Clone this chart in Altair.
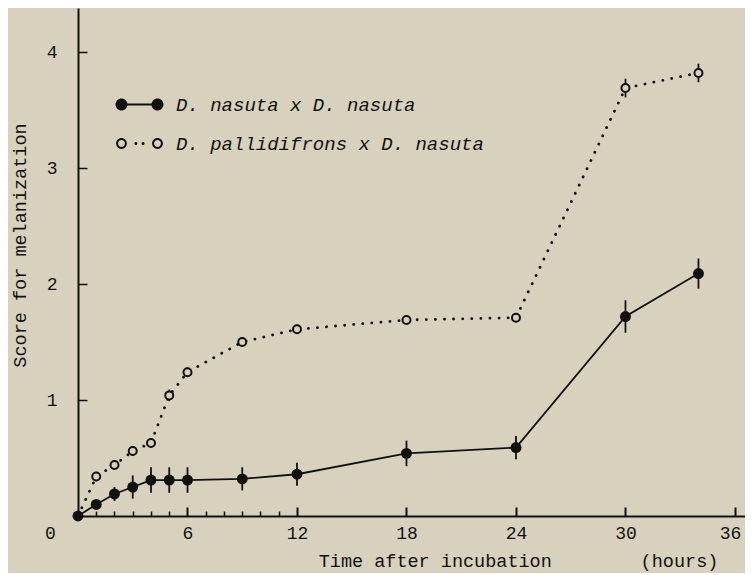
import altair as alt
import pandas as pd

# ---- data ----
hours = [0, 1, 2, 3, 4, 5, 6, 9, 12, 18, 24, 30, 34]
nasuta = [0.0, 0.10, 0.19, 0.25, 0.31, 0.31, 0.31, 0.32, 0.36, 0.54, 0.59, 1.72, 2.09]
nasuta_err = [0.0, 0.03, 0.06, 0.10, 0.11, 0.11, 0.11, 0.10, 0.10, 0.11, 0.10, 0.14, 0.13]
pallid = [0.0, 0.34, 0.44, 0.56, 0.63, 1.04, 1.24, 1.50, 1.61, 1.69, 1.71, 3.69, 3.82]
pallid_err = [0.0, 0.04, 0.04, 0.04, 0.04, 0.05, 0.04, 0.04, 0.04, 0.03, 0.04, 0.08, 0.08]
series = ["D. nasuta x D. nasuta", "D. pallidifrons x D. nasuta"]
x_label_values = [0, 6, 12, 18, 24, 30, 36]
x_tick_values = [1, 2, 3, 4, 5, 6, 7, 8, 9, 10, 11, 12, 18, 24, 30, 36]
y_values = [1, 2, 3, 4]
y_title = "Score for melanization"
x_title = "Time after incubation" + "\u00a0" * 8 + "(hours)"

rows = []
for name, vals, errs in [(series[0], nasuta, nasuta_err), (series[1], pallid, pallid_err)]:
    for h, v, e in zip(hours, vals, errs):
        rows.append({"series": name, "hour": h, "score": v, "lo": v - e, "hi": v + e})
df = pd.DataFrame(rows)

# ---- style ----
BG = "#d8d1be"
INK = "#111111"
FONT = "Liberation Mono"
W, H = 667, 508
XMAX, YMAX = 36.55, 4.38

xs = alt.Scale(domain=[0, XMAX], nice=False, zero=False)
ys = alt.Scale(domain=[0, YMAX], nice=False, zero=False)

# legend symbols as custom paths (unit = sqrt(size)/2 px)
path_filled = ("M-4,0A1,1,0,1,1,-2,0A1,1,0,1,1,-4,0Z "
               "M2,0A1,1,0,1,1,4,0A1,1,0,1,1,2,0Z "
               "M-2.2,-0.15L2.2,-0.15L2.2,0.15L-2.2,0.15Z")
path_open = ("M-3.9,0A0.9,0.9,0,1,1,-2.1,0A0.9,0.9,0,1,1,-3.9,0Z "
             "M-3.57,0A0.57,0.57,0,1,0,-2.43,0A0.57,0.57,0,1,0,-3.57,0Z "
             "M2.1,0A0.9,0.9,0,1,1,3.9,0A0.9,0.9,0,1,1,2.1,0Z "
             "M2.43,0A0.57,0.57,0,1,0,3.57,0A0.57,0.57,0,1,0,2.43,0Z "
             "M-0.85,0A0.25,0.25,0,1,1,-0.35,0A0.25,0.25,0,1,1,-0.85,0Z "
             "M0.35,0A0.25,0.25,0,1,1,0.85,0A0.25,0.25,0,1,1,0.35,0Z")

axis_bottom = alt.Axis(
    orient="bottom", values=x_label_values, ticks=False, tickSize=0, grid=False,
    domain=True, domainColor=INK, domainWidth=2,
    labelFont=FONT, labelFontSize=18, labelColor=INK, labelPadding=8,
    labelFlush=False, labelOverlap=False,
    labelOffset={
        "condition": [
            {"test": "datum.value === 0", "value": -28},
            {"test": "datum.value === 36", "value": -5},
        ],
        "value": 0,
    },
    title=x_title, titleFont=FONT, titleFontSize=18.5, titleFontWeight="normal",
    titleColor=INK, titleX=440, titleY=50, titleAlign="center", titleBaseline="alphabetic",
)
axis_top_ticks = alt.Axis(
    orient="top", offset=-H, values=x_tick_values, labels=False, domain=False, grid=False,
    title=None, ticks=True, tickColor=INK,
    tickSize={"condition": {"test": "datum.value % 6 === 0", "value": 9}, "value": 5},
    tickWidth={"condition": {"test": "datum.value % 6 === 0", "value": 2}, "value": 1.5},
)
axis_left = alt.Axis(
    orient="left", values=y_values, ticks=False, tickSize=0, grid=False,
    domain=True, domainColor=INK, domainWidth=2,
    labelFont=FONT, labelFontSize=18, labelColor=INK, labelPadding=21,
    title=y_title, titleFont=FONT, titleFontSize=18.5, titleFontWeight="normal",
    titleColor=INK, titleX=-59, titleY=237, titleAngle=-90,
    titleAlign="center", titleBaseline="middle",
)
axis_right_ticks = alt.Axis(
    orient="right", offset=-W, values=y_values, labels=False, domain=False, grid=False,
    title=None, ticks=True, tickColor=INK, tickSize=9, tickWidth=1.5,
)

base = alt.Chart(df)
is_a = alt.datum.series == series[0]
is_b = alt.datum.series == series[1]

err_a = base.transform_filter(is_a).mark_rule(color=INK, strokeWidth=1.8).encode(
    x=alt.X("hour:Q", scale=xs, axis=axis_bottom),
    y=alt.Y("lo:Q", scale=ys, axis=axis_left),
    y2="hi:Q",
)
err_b = base.transform_filter(is_b).mark_rule(color=INK, strokeWidth=1.8).encode(
    x=alt.X("hour:Q", scale=xs, axis=axis_top_ticks),
    y=alt.Y("lo:Q", scale=ys, axis=axis_right_ticks),
    y2="hi:Q",
)
line_a = base.transform_filter(is_a).mark_line(color=INK, strokeWidth=1.8).encode(
    x=alt.X("hour:Q", scale=xs, axis=None),
    y=alt.Y("score:Q", scale=ys, axis=None),
)
line_b = base.transform_filter(is_b).mark_line(
    color=INK, strokeWidth=2.8, strokeDash=[0.1, 9], strokeCap="round"
).encode(
    x=alt.X("hour:Q", scale=xs, axis=None),
    y=alt.Y("score:Q", scale=ys, axis=None),
)
pts_b = base.transform_filter(is_b).transform_filter(alt.datum.hour > 0).mark_point(
    shape="circle", size=64, filled=False, fill=BG, stroke=INK, strokeWidth=2, opacity=1
).encode(
    x=alt.X("hour:Q", scale=xs, axis=None),
    y=alt.Y("score:Q", scale=ys, axis=None),
)
pts_a = base.transform_filter(is_a).mark_point(
    shape="circle", size=120, filled=True, color=INK, opacity=1
).encode(
    x=alt.X("hour:Q", scale=xs, axis=None),
    y=alt.Y("score:Q", scale=ys, axis=None),
)
legend_layer = base.mark_point(filled=True, color=INK, opacity=0).encode(
    x=alt.X("hour:Q", scale=xs, axis=None),
    y=alt.Y("score:Q", scale=ys, axis=None),
    shape=alt.Shape(
        "series:N",
        scale=alt.Scale(domain=series, range=[path_filled, path_open]),
        legend=alt.Legend(
            orient="none", legendX=52, legendY=87, title=None, padding=0,
            labelFont=FONT, labelFontStyle="italic", labelFontSize=19, labelColor=INK,
            labelLimit=500, labelOffset=27, symbolOffset=0,
            symbolSize=144, symbolFillColor=INK, symbolStrokeColor=INK,
            symbolStrokeWidth=0, symbolOpacity=1, rowPadding=19,
        ),
    ),
)

chart = alt.layer(
    err_a, err_b, line_a, line_b, pts_b, pts_a, legend_layer
).resolve_axis(x="independent", y="independent").properties(
    width=W, height=H,
    autosize=alt.AutoSizeParams(type="none"),
    padding={"left": 70, "top": 0, "right": 0, "bottom": 57},
    background=BG,
).configure_view(stroke=None)

chart.save("out.html", embed_options={"renderer": "svg", "actions": False})
